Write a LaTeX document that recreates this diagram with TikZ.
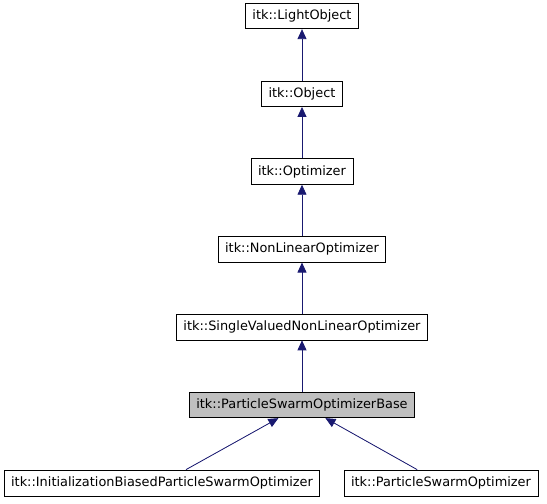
\documentclass[tikz,border=0pt]{standalone}
\usepackage{fontspec}
\setmainfont{DejaVu Sans}
\usepackage{xcolor}
\usetikzlibrary{arrows.meta,positioning}
\definecolor{edgeblue}{RGB}{25,25,112}

\begin{document}
\begin{tikzpicture}[x=1pt,y=1pt,node distance=51.5pt,>={Triangle[length=10pt,width=9pt]},every node/.style={font=\fontsize{12.9pt}{15pt}\selectfont},cls/.style={draw,line width=0.8pt,inner xsep=7pt,minimum height=25.5pt,fill=white},inherit/.style={<-,draw=edgeblue,fill=edgeblue,line width=0.8pt}]
\useasboundingbox (0,0) rectangle (547,504);
\node[cls,fill=gray!50] (base) at (302,99) {itk::ParticleSwarmOptimizerBase};
\node[cls,above=of base] (single) {itk::SingleValuedNonLinearOptimizer};
\node[cls,above=of single] (nonlinear) {itk::NonLinearOptimizer};
\node[cls,above=of nonlinear] (optimizer) {itk::Optimizer};
\node[cls,above=of optimizer] (object) {itk::Object};
\node[cls,above=of object] (light) {itk::LightObject};
\node[cls,minimum height=26pt] (initbiased) at (162,21) {itk::InitializationBiasedParticleSwarmOptimizer};
\node[cls,minimum height=26pt] (pso) at (441,21) {itk::ParticleSwarmOptimizer};
\draw[inherit] (light)--(object);
\draw[inherit] (object)--(optimizer);
\draw[inherit] (optimizer)--(nonlinear);
\draw[inherit] (nonlinear)--(single);
\draw[inherit] (single)--(base);
\draw[inherit] (base)--(initbiased);
\draw[inherit] (base)--(pso);
\end{tikzpicture}
\end{document}
